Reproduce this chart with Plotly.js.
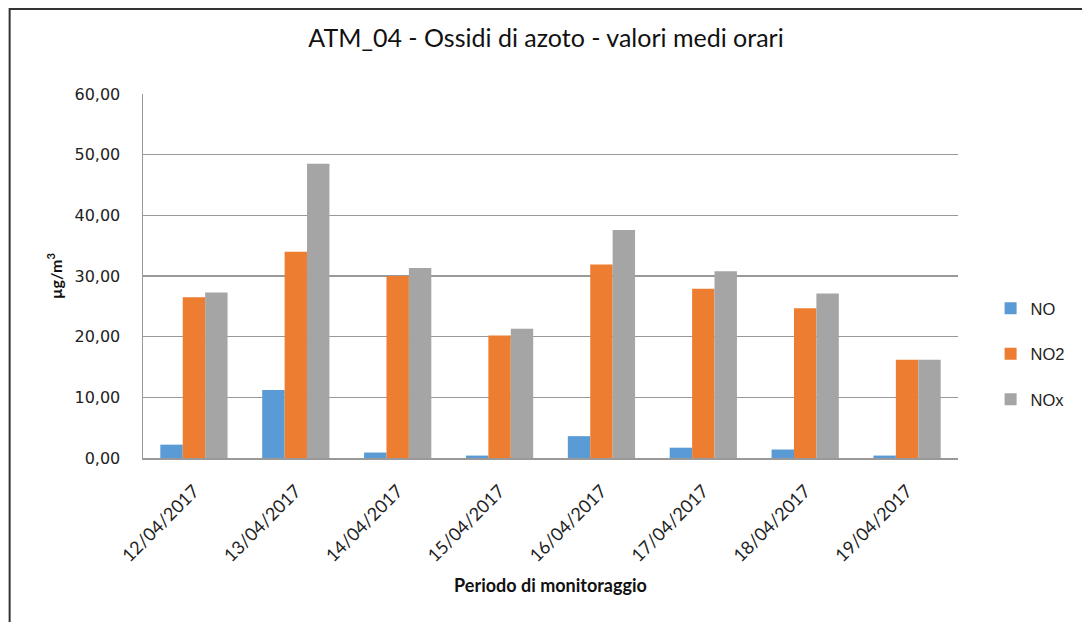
<!DOCTYPE html>
<html>
<head>
<meta charset="utf-8">
<script src="https://cdn.plot.ly/plotly-3.0.1.min.js"></script>
<style>html,body{margin:0;padding:0;background:#fff;}#chart{width:1082px;height:622px;}</style>
</head>
<body>
<div id="chart"></div>
<script>
const categories = ["12/04/2017","13/04/2017","14/04/2017","15/04/2017","16/04/2017","17/04/2017","18/04/2017","19/04/2017"];
const seriesNames = ["NO","NO2","NOx"];
const valuesNO  = [2.2, 11.2, 0.9, 0.4, 3.6, 1.7, 1.4, 0.4];
const valuesNO2 = [26.5, 34.0, 30.0, 20.2, 31.9, 27.9, 24.7, 16.2];
const valuesNOx = [27.3, 48.5, 31.3, 21.3, 37.6, 30.8, 27.1, 16.2];
const colors = ["#5B9BD5","#ED7D31","#A5A5A5"];
const yTicks = [0,10,20,30,40,50,60];

const allValues = [valuesNO, valuesNO2, valuesNOx];
const traces = seriesNames.map((n,i)=>({
  type:'bar', name:n, x:categories, y:allValues[i],
  marker:{color:colors[i]}, legendgroup:n
}));

const font = "Lato, 'Open Sans', sans-serif";
const L=143, R=114, T=94, B=164;
const pw = 1082-L-R, ph = 622-T-B;
const bx = (8-L)/pw, by = (622-B-9)/ph;

Plotly.newPlot('chart', traces, {
  width:1082, height:622,
  margin:{l:L, r:R, t:T, b:B, pad:0},
  paper_bgcolor:'#fff', plot_bgcolor:'#fff',
  separators:',.',
  font:{family:font, color:'#222', size:13},
  title:{text:'ATM_04 - Ossidi di azoto - valori medi orari', font:{family:font, size:25, color:'#111'}, x:(551-L)/pw, xanchor:'center', xref:'paper', y:1-38/622, yanchor:'middle'},
  barmode:'group', bargap:0.34, bargroupgap:0,
  xaxis:{
    type:'category', tickangle:-45, showgrid:false, showline:true, linecolor:'#999', linewidth:1.5,
    ticks:'', ticklabelstandoff:14, tickfont:{family:font, size:18, color:'#222'},
    title:{text:'Periodo di monitoraggio', font:{family:font, size:18, color:'#111', weight:'bold'}, standoff:14}
  },
  yaxis:{
    range:[0,60], tickvals:yTicks, tickformat:'.2f', showgrid:true, gridcolor:'#999', gridwidth:1.4,
    showline:true, linecolor:'#999', linewidth:1.5, zeroline:false, ticks:'', ticklabelstandoff:18,
    tickfont:{family:"'DejaVu Sans', sans-serif", size:16, color:'#222'},
    title:{text:'<b>µg/m<sup>3</sup></b>', font:{family:font, size:16, color:'#111'}, standoff:8}
  },
  legend:{x:(1001-L)/pw, xanchor:'left', y:(622-B-354)/ph, yanchor:'middle', traceorder:'grouped',
    tracegroupgap:21, font:{family:"'Liberation Sans', Arial, sans-serif", size:16.5, color:'#222'}, bgcolor:'rgba(0,0,0,0)', itemwidth:30},
  shapes:[{type:'path', xref:'paper', yref:'paper',
    path:`M ${bx},-1 L ${bx},${by} L 2,${by}`, line:{color:'#333', width:2}}],
  showlegend:true
}, {staticPlot:true, displayModeBar:false});
</script>
</body>
</html>
